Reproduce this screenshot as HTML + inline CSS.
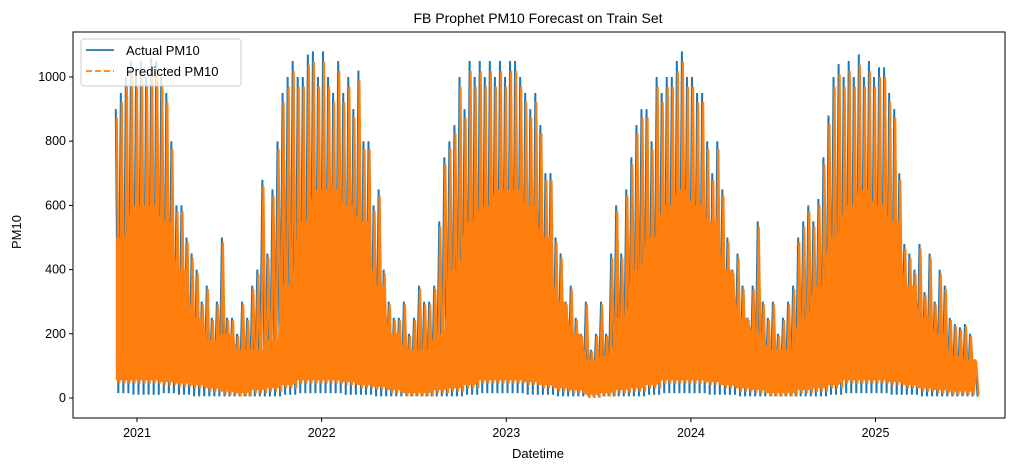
<!DOCTYPE html>
<html><head><meta charset="utf-8"><style>
body{margin:0;background:#fff;}
svg{display:block;font-family:"Liberation Sans","DejaVu Sans",sans-serif;}
</style></head><body>
<svg id="chart" width="1014" height="470">
<text x="538" y="23" text-anchor="middle" font-size="14">FB Prophet PM10 Forecast on Train Set</text>
<g id="plot"></g>
<g id="xaxis"></g>
<g id="yaxis"></g>
<text x="538" y="458" text-anchor="middle" font-size="13">Datetime</text>
<text x="0" y="0" transform="translate(21,232) rotate(-90)" text-anchor="middle" font-size="13">PM10</text>
<rect x="73" y="32" width="932" height="386" fill="none" stroke="#000" stroke-width="1"/>
<g>
<rect x="81" y="39" width="160" height="47" rx="3" fill="#fff" fill-opacity="0.8" stroke="#ccc"/>
<line x1="86" y1="50" x2="114" y2="50" stroke="#1f77b4" stroke-width="1.8"/>
<text x="126" y="55" font-size="13">Actual PM10</text>
<line x1="86" y1="71" x2="114" y2="71" stroke="#ff7f0e" stroke-width="1.8" stroke-dasharray="6,3"/>
<text x="126" y="76" font-size="13">Predicted PM10</text>
</g>
</svg>
<script>
const startDay = -42; // days since 2021-01-01 (approx Nov 20, 2020)
const stepDays = 10;
const highs = [900,950,1000,1050,1000, 1050,1000,1060, 1050,1000,950, 800,600,600, 500,450,400, 300,350,250, 300,500,250, 250,200,300, 250,350,400, 680,450,650, 800,950,1000, 1050,1000,1000, 1070,1080,1000,
 1080,1000,950, 1050,950,1000, 900,1020,800, 800,600,650, 400,300,250, 250,300,200, 250,350,300, 300,350,550, 750,800,850, 1000,900,1050, 1000,1050,1000, 1050,1000,1050,
 1000,1050,1050, 1000,950,900, 950,850,700, 700,500,450, 300,350,250, 200,300,150, 200,300,200, 450,600,450, 650,750,850, 900,900,800, 1000,950,1000, 1000,1050,1080,
 1000,1000,950, 950,800,700, 800,650,500, 400,450,350, 250,350,550, 300,250,300, 200,250,300, 350,500,550, 600,550,620, 750,880,1000, 1040,1000,1050, 1000,1070,1000,
 1050,1000,1030, 1030,950,900, 700,480,450, 400,480,330, 450,300,400, 350,250,230, 220,230,200, 120];
const bandTop = [500,600, 600,550,400,250,180,200,150,150,180,350,550,650, 650,600,550,350,200,150,150,200,400,550,600,650, 650,600,500,300,200,120,130,250,400,500,600,650, 600,550,400,250,200,150,150,250,350,500,600,650, 600,550,350,250,200,130,120,80];
const actualLow = [15,10, 10,15,10,5,5,5,5,5,5,10,15,15, 15,10,10,5,5,5,5,5,5,10,15,15, 15,10,10,5,5,5,5,5,5,10,15,15, 15,10,10,5,5,5,5,5,5,10,15,15, 15,10,10,5,5,5,5,5];
const predLow = [45,45, 45,40,35,30,20,10,5,15,20,30,45,45, 45,40,30,25,15,5,5,15,20,30,45,45, 45,40,30,20,15,0,5,15,20,30,45,45, 45,40,30,20,15,5,5,15,20,30,45,45, 45,40,30,20,15,10,10,10];
const yTicks = [0,200,400,600,800,1000];
const xTickYears = [2021,2022,2023,2024,2025];

const NS="http://www.w3.org/2000/svg";
const X0=137, PXDAY=184.5/365;
const xs = d => X0 + d*PXDAY;
const ys = v => 398 - v*0.321;
const plot=document.getElementById('plot');
const monthIdx = i => Math.min(bandTop.length-1, Math.floor(i/3));

let up=[], lo=[];
for(let i=0;i<highs.length;i++){const d=startDay+i*stepDays; up.push(xs(d)+','+ys(bandTop[monthIdx(i)])); lo.unshift(xs(d)+','+ys(predLow[monthIdx(i)]+10));}
const band=document.createElementNS(NS,'polygon');
band.setAttribute('points',up.concat(lo).join(' '));
band.setAttribute('fill','#ff7f0e');



function zig(lowArr, scale, offs){
  let p=[];
  for(let i=0;i<highs.length;i++){
    const d=startDay+i*stepDays+offs;
    p.push(xs(d)+','+ys(highs[i]*scale));
    p.push(xs(d+stepDays/2)+','+ys(lowArr[monthIdx(i)]));
  }
  return p.join(' ');
}
const a=document.createElementNS(NS,'polyline');
a.setAttribute('points',zig(actualLow,1,0));
a.setAttribute('fill','none');a.setAttribute('stroke','#1f77b4');a.setAttribute('stroke-width','2');


plot.appendChild(a);
plot.appendChild(band);
const p=document.createElementNS(NS,'polyline');
p.setAttribute('points',zig(predLow,0.97,2));
p.setAttribute('fill','none');p.setAttribute('stroke','#ff7f0e');p.setAttribute('stroke-width','2.2');


plot.appendChild(p);

const yax=document.getElementById('yaxis');
yTicks.forEach(v=>{
  const l=document.createElementNS(NS,'line');
  l.setAttribute('x1',69);l.setAttribute('x2',73);l.setAttribute('y1',ys(v));l.setAttribute('y2',ys(v));l.setAttribute('stroke','#000');
  
  
  yax.appendChild(l);
  const t=document.createElementNS(NS,'text');
  t.setAttribute('x',66);t.setAttribute('y',ys(v)+4);t.setAttribute('text-anchor','end');t.setAttribute('font-size','12.5');
  t.textContent=v;
  
  
  yax.appendChild(t);
});
const xax=document.getElementById('xaxis');
xTickYears.forEach(yr=>{
  const x=xs((yr-2021)*365.25);
  const l=document.createElementNS(NS,'line');
  l.setAttribute('x1',x);l.setAttribute('x2',x);l.setAttribute('y1',418);l.setAttribute('y2',422);l.setAttribute('stroke','#000');
  
  
  xax.appendChild(l);
  const t=document.createElementNS(NS,'text');
  t.setAttribute('x',x);t.setAttribute('y',437);t.setAttribute('text-anchor','middle');t.setAttribute('font-size','12.5');
  t.textContent=yr;
  
  
  xax.appendChild(t);
});
</script>
</body></html>
